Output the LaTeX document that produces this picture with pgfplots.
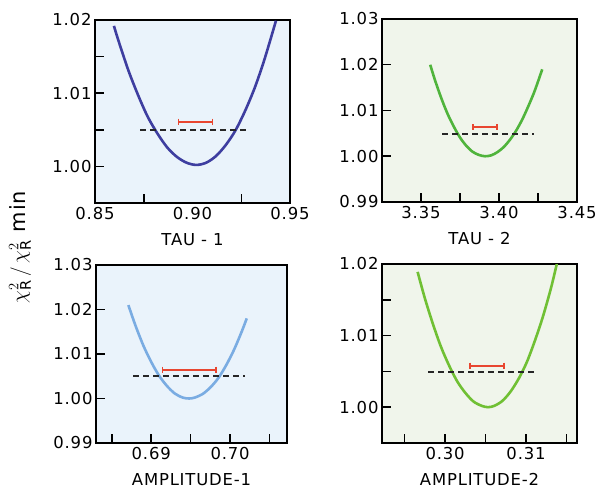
\documentclass[border=0pt]{standalone}
\usepackage{fontspec}
\setmainfont{DejaVu Sans}[LetterSpace=5]
\usepackage{pgfplots}
\pgfplotsset{compat=1.18}
\definecolor{bgblue}{RGB}{234,243,251}
\definecolor{bggreen}{RGB}{240,245,235}
\definecolor{cA}{RGB}{62,62,160}
\definecolor{cB}{RGB}{80,180,60}
\definecolor{cC}{RGB}{122,172,226}
\definecolor{cD}{RGB}{112,192,52}
\definecolor{cRed}{RGB}{232,70,48}
\pgfplotsset{
  panel/.style={
    scale only axis, anchor=south west,
    axis line style={line width=1.8bp},
    every tick/.style={black, line width=1.5bp},
    major tick length=9bp,
    tick align=inside,
    xtick pos=bottom, ytick pos=left,
    tick label style={font=\fontsize{16.5}{19}\selectfont},
    label style={font=\fontsize{16.5}{19}\selectfont},
    xlabel style={at={(axis description cs:0.5,0)}, anchor=center, yshift=-37bp},
    xticklabel style={yshift=-1bp},
  },
  curve/.style={line width=2.6bp, smooth, no marks},
  dashl/.style={line width=1.8bp, black!85, dash pattern=on 6bp off 4bp, no marks},
  ebar/.style={line width=2bp, cRed, mark=|, mark size=3bp, mark options={solid, line width=1.6bp}},
}
\begin{document}
\begin{tikzpicture}
\useasboundingbox (0,0) rectangle (601bp,494bp);
% Panel 1: TAU-1
\begin{axis}[panel, at={(95bp,291bp)}, width=195bp, height=183bp,
  axis background/.style={fill=bgblue},
  xmin=0.85, xmax=0.95, ymin=0.995, ymax=1.02,
  xtick={0.875,0.925}, xticklabels={,},
  extra x ticks={0.85,0.90,0.95}, extra x tick labels={0.85,0.90,0.95},
  extra x tick style={major tick length=0pt},
  ytick={1.00,1.005,1.01,1.015,1.02}, yticklabels={1.00,,1.01,,1.02},
  xlabel={TAU - 1}]
\addplot[curve, cA] coordinates {
(0.8597,1.0192) (0.862,1.0172) (0.867,1.0132) (0.872,1.0098) (0.877,1.0068)
(0.882,1.0045) (0.887,1.0026) (0.892,1.0013) (0.897,1.0005) (0.902,1.0002)
(0.907,1.0005) (0.912,1.0014) (0.917,1.0029) (0.922,1.0049) (0.927,1.0076)
(0.932,1.0108) (0.937,1.0147) (0.9428,1.0199)};
\addplot[dashl] coordinates {(0.8733,1.005) (0.9292,1.005)};
\addplot[ebar] coordinates {(0.8928,1.0061) (0.9103,1.0061)};
\end{axis}
% Panel 2: TAU-2
\begin{axis}[panel, at={(382bp,292bp)}, width=195bp, height=183bp,
  axis background/.style={fill=bggreen},
  xmin=3.325, xmax=3.45, ymin=0.99, ymax=1.03,
  xtick={3.35,3.375,3.40,3.425,3.45}, xticklabels={3.35,,3.40,,3.45},
  ytick={0.99,1.00,1.01,1.02,1.03}, yticklabels={0.99,1.00,1.01,1.02,1.03},
  xlabel={TAU - 2}]
\addplot[curve, cB] coordinates {
(3.3559,1.0200) (3.359,1.0166) (3.363,1.0127) (3.367,1.0093) (3.371,1.0065)
(3.375,1.0041) (3.379,1.0023) (3.383,1.0010) (3.387,1.0003) (3.391,1.0000)
(3.395,1.0002) (3.399,1.0009) (3.403,1.0020) (3.407,1.0036) (3.411,1.0056)
(3.415,1.0081) (3.419,1.0111) (3.423,1.0144) (3.4277,1.0190)};
\addplot[dashl] coordinates {(3.3637,1.0049) (3.4225,1.0049)};
\addplot[ebar] coordinates {(3.3832,1.0063) (3.3987,1.0063)};
\end{axis}
% Panel 3: AMPLITUDE-1
\begin{axis}[panel, at={(96bp,51bp)}, width=191bp, height=178bp,
  axis background/.style={fill=bgblue},
  xmin=0.683, xmax=0.7072, ymin=0.99, ymax=1.03,
  xtick={0.685,0.69,0.695,0.70,0.705}, xticklabels={,0.69,,0.70,},
  ytick={0.99,1.00,1.01,1.02,1.03}, yticklabels={0.99,1.00,1.01,1.02,1.03},
  xlabel={AMPLITUDE-1}]
\addplot[curve, cC] coordinates {
(0.6871,1.0210) (0.6880,1.0164) (0.6890,1.0119) (0.6900,1.0082) (0.6910,1.0051)
(0.6920,1.0028) (0.6930,1.0011) (0.6940,1.0002) (0.6948,1.0000) (0.6955,1.0002)
(0.6965,1.0010) (0.6975,1.0025) (0.6985,1.0046) (0.6995,1.0075) (0.7005,1.0110)
(0.7015,1.0152) (0.7021,1.0180)};
\addplot[dashl] coordinates {(0.6877,1.005) (0.7019,1.005)};
\addplot[ebar] coordinates {(0.69145,1.0065) (0.6982,1.0065)};
\end{axis}
% Panel 4: AMPLITUDE-2
\begin{axis}[panel, at={(382bp,51bp)}, width=195bp, height=179bp,
  axis background/.style={fill=bggreen},
  xmin=0.2922, xmax=0.3163, ymin=0.995, ymax=1.02,
  xtick={0.295,0.30,0.305,0.31,0.315}, xticklabels={,0.30,,0.31,},
  ytick={1.00,1.005,1.01,1.015,1.02}, yticklabels={1.00,,1.01,,1.02},
  xlabel={AMPLITUDE-2}]
\addplot[curve, cD] coordinates {
(0.2966,1.0189) (0.2975,1.0152) (0.2985,1.0116) (0.2995,1.0084) (0.3005,1.0058)
(0.3015,1.0036) (0.3025,1.0020) (0.3035,1.0008) (0.3045,1.0002) (0.3053,1.0000)
(0.3061,1.0002) (0.3071,1.0009) (0.3081,1.0022) (0.3091,1.0040) (0.3101,1.0063)
(0.3111,1.0093) (0.3121,1.0127) (0.3131,1.0167) (0.3138,1.0200)};
\addplot[dashl] coordinates {(0.2979,1.0049) (0.3113,1.0049)};
\addplot[ebar] coordinates {(0.3031,1.0058) (0.3073,1.0058)};
\end{axis}
\node[rotate=90, font=\fontsize{21}{24}\selectfont] at (20bp,247bp)
  {$\chi^{2}_{\mathrm{R}}\,/\,\chi^{2}_{\mathrm{R}}$\ min};
\end{tikzpicture}
\end{document}
